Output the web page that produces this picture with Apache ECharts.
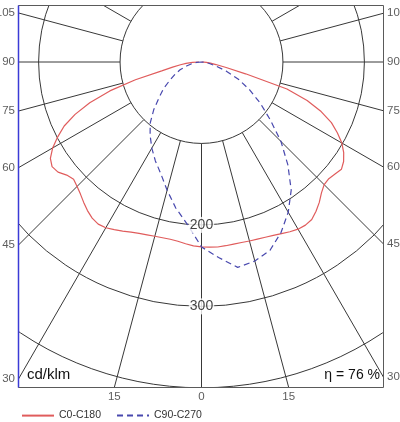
<!DOCTYPE html>
<html>
<head>
<meta charset="utf-8">
<script src="https://cdn.jsdelivr.net/npm/echarts@6/dist/echarts.min.js"></script>
<style>html,body{margin:0;padding:0;background:#fff;}#c{width:400px;height:422px;}</style>
</head>
<body>
<div id="c"></div>
<script>
// ---- data (cd/klm vs. gamma angle, 0 = straight down) ----
const anglesRed = [0,2.5,5,7.5,10,12.5,15,17.5,20,22.5,25,27.5,30,32.5,35,37.5,40,42.5,45,47.5,50,52.5,55,57.5,60,62.5,65,67.5,70,72.5,75,77.5,80,82.5,85,87.5,90];
const c0   = [227,227.5,228,227.5,227,227,227.5,228,229,230.5,232.5,235,237,237.5,236,231,225,218,213,212,214,216.5,213,207,199,188,176,159,138,110,56,31,18,11,6,3,0];
const c180 = [227,226,224,222,221,221,221.5,222.5,224,226,229,232,235,236,234,230,225,220,216,213,216,222,224,220,211,199,186,168,146,118,84,50,36,26,19,11,3];
const anglesBlue = [0,5,10,15,20,25,30,35,40,45,50,55,60,65,70,75,80,85,90];
const c90  = [227,241,256,253,246,231,213,192,165,138,110,88,68,50,32,17,9,4,0];
const c270 = [227,200,182,163,146,134,122,110,98,83,68,57,45,36,28,19,12,6,0];
const ringLabels = [200, 300];
const spokeAngles = [0,15,30,45,60,75,90,105,120,135,150,165,180,195,210,225,240,255,270,285,300,315,330,345];
const sideAngles = [105, 90, 75, 60, 45, 30];
const bottomAngles = [-15, 0, 15];
const bottomLabels = ['15', '0', '15'];
const legendNames = ['C0-C180', 'C90-C270'];

// ---- layout ----
const CX = 201.5, CY = 62, SCALE = 0.8145;
const L = 18.5, T = 5.5, R = 383.5, B = 387.5;
const RMAX = 600;
const GRID = '#383838', RED = '#e05c5c', BLUE = '#4848ae';
const FONT = 'Liberation Sans, Arial, sans-serif';

const xMin = -(CX - L) / SCALE, xMax = (R - CX) / SCALE;
const yMax = (CY - T) / SCALE, yMin = -(B - CY) / SCALE;
const rad = d => d * Math.PI / 180;

const series = [];
spokeAngles.forEach(a => {
  series.push({type:'line', coordinateSystem:'polar', data:[[100, a], [RMAX, a]],
    symbol:'none', silent:true, z:1, lineStyle:{color:GRID, width:1}});
});

const redData = [];
for (let i = anglesRed.length - 1; i >= 0; i--) redData.push([c180[i], 360 - anglesRed[i]]);
for (let i = 0; i < anglesRed.length; i++) redData.push([c0[i], anglesRed[i]]);
const blueData = [];
for (let i = anglesBlue.length - 1; i >= 0; i--) blueData.push([c270[i], 360 - anglesBlue[i]]);
for (let i = 0; i < anglesBlue.length; i++) blueData.push([c90[i], anglesBlue[i]]);

series.push({name:legendNames[0], type:'line', coordinateSystem:'polar', data:redData,
  symbol:'none', showSymbol:false, z:10, lineStyle:{color:RED, width:1.2}, itemStyle:{color:RED}});
series.push({name:legendNames[1], type:'line', coordinateSystem:'polar', data:blueData,
  symbol:'none', showSymbol:false, z:11, lineStyle:{color:BLUE, width:1.2, type:[6,4]}, itemStyle:{color:BLUE}});

series.push({type:'scatter', coordinateSystem:'polar', silent:true, z:20,
  data: ringLabels.map(v => ({value:[v, 0], name:String(v)})),
  symbolSize:1, itemStyle:{color:'rgba(0,0,0,0)'},
  label:{show:true, position:'inside', formatter:'{b}', color:'#111', fontSize:14, fontFamily:FONT,
    backgroundColor:'#fff', padding:[1,1]}});

const edgeLabel = (pos) => ({show:true, position:pos, distance:3, formatter:'{b}', color:'#333', fontSize:11.5, fontFamily:FONT});
series.push({type:'scatter', clip:false, silent:true, z:100, symbolSize:1, itemStyle:{color:'rgba(0,0,0,0)'},
  data: sideAngles.map(g => ({value:[xMin, xMin * Math.cos(rad(g)) / Math.sin(rad(g))], name:String(g)})),
  label: edgeLabel('left')});
series.push({type:'scatter', clip:false, silent:true, z:100, symbolSize:1, itemStyle:{color:'rgba(0,0,0,0)'},
  data: sideAngles.map(g => ({value:[xMax, -xMax * Math.cos(rad(g)) / Math.sin(rad(g))], name:String(g)})),
  label: edgeLabel('right')});
series.push({type:'scatter', clip:false, silent:true, z:100, symbolSize:1, itemStyle:{color:'rgba(0,0,0,0)'},
  data: bottomAngles.map((g, i) => ({value:[-yMin * Math.tan(rad(g)), yMin], name:bottomLabels[i]})),
  label: edgeLabel('bottom')});

const chart = echarts.init(document.getElementById('c'), null, {renderer:'canvas'});
chart.setOption({
  animation:false,
  backgroundColor:'#fff',
  polar:{center:[CX, CY], radius: RMAX * SCALE},
  angleAxis:{type:'value', min:0, max:360, startAngle:270, clockwise:false,
    axisLine:{show:false}, axisTick:{show:false}, axisLabel:{show:false}, splitLine:{show:false}},
  radiusAxis:{type:'value', min:0, max:RMAX, interval:100,
    axisLine:{show:false}, axisTick:{show:false}, axisLabel:{show:false},
    splitLine:{show:true, lineStyle:{color:GRID, width:1}}},
  grid:{left:L, top:T, width:R - L, height:B - T, show:false},
  xAxis:{type:'value', min:xMin, max:xMax, show:false},
  yAxis:{type:'value', min:yMin, max:yMax, show:false},
  legend:{data:legendNames, left:16, top:405, itemWidth:32, itemHeight:14, itemGap:15, z:100,
    itemStyle:{opacity:0},
    textStyle:{fontSize:10.5, color:'#333', fontFamily:FONT}},
  graphic:[
    {type:'rect', z:50, silent:true, shape:{x:0, y:0, width:400, height:T}, style:{fill:'#fff'}},
    {type:'rect', z:50, silent:true, shape:{x:0, y:0, width:L, height:422}, style:{fill:'#fff'}},
    {type:'rect', z:50, silent:true, shape:{x:R, y:0, width:400 - R, height:422}, style:{fill:'#fff'}},
    {type:'rect', z:50, silent:true, shape:{x:0, y:B, width:400, height:422 - B}, style:{fill:'#fff'}},
    {type:'rect', z:60, silent:true, shape:{x:L, y:T, width:R - L, height:B - T}, style:{fill:'none', stroke:'#5a5a5a', lineWidth:1}},
    {type:'line', z:61, silent:true, shape:{x1:L, y1:T, x2:L, y2:B}, style:{stroke:'#3b3bd6', lineWidth:1.5}},
    {type:'text', z:70, silent:true, x:27, y:375, style:{text:'cd/klm', font:'15px ' + FONT, fill:'#111', textVerticalAlign:'middle', textAlign:'left'}},
    {type:'text', z:70, silent:true, x:380, y:375, style:{text:'η = 76 %', font:'14px ' + FONT, fill:'#111', textVerticalAlign:'middle', textAlign:'right'}}
  ],
  series: series
});
</script>
</body>
</html>
